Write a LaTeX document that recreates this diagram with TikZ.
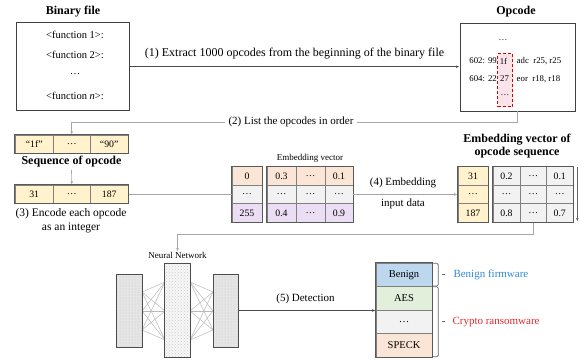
\documentclass[tikz,border=0pt]{standalone}
\usepackage{fontspec}
\setmainfont{Liberation Serif}
\usetikzlibrary{arrows.meta,patterns,calc}
\definecolor{yel}{HTML}{FFF2CC}
\definecolor{peach}{HTML}{FBE5D6}
\definecolor{lgray}{HTML}{F2F2F2}
\definecolor{lav}{HTML}{EBDDF3}
\definecolor{bblue}{HTML}{BDD7EE}
\definecolor{bgreen}{HTML}{E2EFDA}
\definecolor{txtblue}{HTML}{2F88D6}
\definecolor{txtred}{HTML}{DD2A2E}
\definecolor{pinkfill}{HTML}{FBE3EA}
\begin{document}
\begin{tikzpicture}[x=1pt,y=-1pt,
  box/.style={draw=black!75, line width=0.9pt, inner sep=0pt},
  cell/.style={draw=black!50, line width=0.6pt, inner sep=0pt, font=\fontsize{9.8}{11}\selectfont},
  frame/.style={draw=black!65, line width=0.8pt},
  ttl/.style={font=\bfseries\fontsize{12}{14}\selectfont, inner sep=0pt},
  lbl/.style={font=\fontsize{11}{13}\selectfont, inner sep=1pt},
  txt/.style={font=\fontsize{10.5}{12}\selectfont, inner sep=0pt},
  code/.style={font=\fontsize{8.8}{10}\selectfont, inner sep=0pt},
  small/.style={font=\fontsize{9}{10}\selectfont, inner sep=0pt},
  arr/.style={-{Latex[length=3.5pt,width=2.6pt]}, line width=0.6pt},
  dline/.style={draw=black!70, line width=0.7pt},
  gline/.style={draw=black!35, line width=0.7pt},
  nnside/.style={draw=black!70, line width=1pt, preaction={fill=gray!20}, pattern=dots, pattern color=gray!45},
  nnmid/.style={draw=black!70, line width=1pt, preaction={fill=gray!6}, pattern=crosshatch dots, pattern color=gray!40},
  nnlink/.style={draw=gray!55, line width=0.5pt},
  brk/.style={draw=black!60, line width=0.7pt, rounded corners=1.5pt}
]
\useasboundingbox (0,0) rectangle (585,361);

% ---------- Binary file ----------
\node[ttl] (bintitle) at (73,12) {Binary file};
\node[box, minimum width=113pt, minimum height=88pt] (bin) at (72.7,66.7) {};
\node[txt] (f1) at (75,35) {<function 1>:};
\node[txt] (f2) at (75,55) {<function 2>:};
\node[txt] (f3) at (75,74) {…};
\node[txt] (f4) at (75,96) {<function \textit{n}>:};

% ---------- Opcode ----------
\node[ttl] (optitle) at (516,12) {Opcode};
\node[box, minimum width=115pt, minimum height=88pt] (op) at (517.5,67) {};
\node[draw=red!85!black, dashed, dash pattern=on 3pt off 2pt, line width=1.2pt, fill=pinkfill,
      minimum width=15pt, minimum height=53pt, inner sep=0pt] (sel) at (505,80) {};
\node[code] (odots) at (503,40) {…};
\node[code, anchor=east] (l1a) at (497,61) {602: 99};
\node[code] (l1b) at (503.5,61) {1f};
\node[code, anchor=west] (l1c) at (516.5,61) {adc\ \ r25, r25};
\node[code, anchor=east] (l2a) at (497,79) {604: 22};
\node[code] (l2b) at (504.5,79) {27};
\node[code, anchor=west] (l2c) at (516.5,79) {eor\ \ r18, r18};
\node[code] (seldots) at (505,95) {…};

% (1)
\draw[dline, arr] (bin.east) -- (bin.east -| op.west);
\node[lbl, font=\fontsize{12}{14}\selectfont] (lab1) at (294.5,54) {(1) Extract 1000 opcodes from the beginning of the binary file};

% ---------- Sequence of opcode ----------
\node[cell, fill=yel, minimum width=38.3pt, minimum height=18.3pt] (s1) at (34.2,144.2) {“1f”};
\node[cell, fill=yel, minimum width=36.7pt, minimum height=18.3pt] (s2) at (71.7,144.2) {…};
\node[cell, fill=yel, minimum width=38.3pt, minimum height=18.3pt] (s3) at (109.2,144.2) {“90”};
\draw[frame] (s1.north west) rectangle (s3.south east);
\node[ttl] (seqtitle) at (71.5,162) {Sequence of opcode};

% (2)
\draw[gline, arr] (op.south) -- (op.south |- 0,122) -| (s2.north);
\node[lbl, fill=white, inner xsep=4pt] (lab2) at (291,122) {(2) List the opcodes in order};

% ---------- Integers ----------
\node[cell, fill=yel, minimum width=38.3pt, minimum height=18.3pt] (i1) at (34.2,194.2) {31};
\node[cell, fill=yel, minimum width=36.7pt, minimum height=18.3pt] (i2) at (71.7,194.2) {…};
\node[cell, fill=yel, minimum width=38.3pt, minimum height=18.3pt] (i3) at (109.2,194.2) {187};
\draw[frame] (i1.north west) rectangle (i3.south east);
\draw[gline, arr] (seqtitle.south |- 0,170) -- (i2.north);
\node[lbl, font=\fontsize{11.5}{13}\selectfont] (lab3a) at (71,213.3) {(3) Encode each opcode};
\node[lbl, font=\fontsize{11.5}{13}\selectfont] (lab3b) at (71,228.3) {as an integer};

% ---------- Embedding vector table ----------
\node[small] (embtitle) at (310,158) {Embedding vector};
\node[cell, fill=peach, minimum width=30pt, minimum height=18.5pt] (e00) at (247,176) {0};
\node[cell, fill=lgray, minimum width=30pt, minimum height=18.5pt] (e10) at (247,194.5) {…};
\node[cell, fill=lav,   minimum width=30pt, minimum height=18.5pt] (e20) at (247,213) {255};
\node[cell, fill=peach, minimum width=29pt, minimum height=18.5pt] (e01) at (281.5,176) {0.3};
\node[cell, fill=peach, minimum width=29pt, minimum height=18.5pt] (e02) at (310.5,176) {…};
\node[cell, fill=peach, minimum width=28pt, minimum height=18.5pt] (e03) at (339,176) {0.1};
\node[cell, fill=lgray, minimum width=29pt, minimum height=18.5pt] (e11) at (281.5,194.5) {…};
\node[cell, fill=lgray, minimum width=29pt, minimum height=18.5pt] (e12) at (310.5,194.5) {…};
\node[cell, fill=lgray, minimum width=28pt, minimum height=18.5pt] (e13) at (339,194.5) {…};
\node[cell, fill=lav, minimum width=29pt, minimum height=18.5pt] (e21) at (281.5,213) {0.4};
\node[cell, fill=lav, minimum width=29pt, minimum height=18.5pt] (e22) at (310.5,213) {…};
\node[cell, fill=lav, minimum width=28pt, minimum height=18.5pt] (e23) at (339,213) {0.9};
\draw[frame] (e00.north west) rectangle (e20.south east);
\draw[frame] (e01.north west) rectangle (e23.south east);

\draw[gline] (i3.east) -- (i3.east -| e10.west);

% ---------- Output embedding ----------
\node[ttl] (outt1) at (517,140) {Embedding vector of};
\node[ttl] (outt2) at (517,153) {opcode sequence};
\node[cell, fill=yel, minimum width=30pt, minimum height=18.5pt] (o00) at (473,176) {31};
\node[cell, fill=yel, minimum width=30pt, minimum height=18.5pt] (o10) at (473,194.5) {…};
\node[cell, fill=yel, minimum width=30pt, minimum height=18.5pt] (o20) at (473,213) {187};
\node[cell, fill=lgray, minimum width=27pt, minimum height=18.5pt] (o01) at (506.5,176) {0.2};
\node[cell, fill=lgray, minimum width=26.5pt, minimum height=18.5pt] (o02) at (533.25,176) {…};
\node[cell, fill=lgray, minimum width=26.5pt, minimum height=18.5pt] (o03) at (559.75,176) {0.1};
\node[cell, fill=lgray, minimum width=27pt, minimum height=18.5pt] (o11) at (506.5,194.5) {…};
\node[cell, fill=lgray, minimum width=26.5pt, minimum height=18.5pt] (o12) at (533.25,194.5) {…};
\node[cell, fill=lgray, minimum width=26.5pt, minimum height=18.5pt] (o13) at (559.75,194.5) {…};
\node[cell, fill=lgray, minimum width=27pt, minimum height=18.5pt] (o21) at (506.5,213) {0.8};
\node[cell, fill=lgray, minimum width=26.5pt, minimum height=18.5pt] (o22) at (533.25,213) {…};
\node[cell, fill=lgray, minimum width=26.5pt, minimum height=18.5pt] (o23) at (559.75,213) {0.7};
\draw[frame] (o00.north west) rectangle (o20.south east);
\draw[frame] (o01.north west) rectangle (o23.south east);
\coordinate (vt) at ($(o03.north east)+(4,0.5)$);
\coordinate (vb) at ($(o23.south east)+(4,-1)$);
\draw[gline, draw=black!60, arr] (vt) -- (vb);

% (4)
\draw[gline, arr] (e13.east) -- (o10.west);
\node[lbl] (lab4a) at (403,183) {(4) Embedding};
\node[lbl] (lab4b) at (403,203.5) {input data};

% ---------- Neural network ----------
\node[small] (nntitle) at (177.5,255) {Neural Network};
\draw[gline, arr] (o22.south) -- (o22.south |- 0,234) -| (nntitle.north);

\coordinate (p1) at (142,292); \coordinate (p2) at (142,311); \coordinate (p3) at (142,330);
\coordinate (q1) at (165,282); \coordinate (q2) at (165,311); \coordinate (q3) at (165,340);
\coordinate (r1) at (190,282); \coordinate (r2) at (190,311); \coordinate (r3) at (190,340);
\coordinate (t1) at (213,292); \coordinate (t2) at (213,311); \coordinate (t3) at (213,330);
\foreach \a in {p1,p2,p3}{\foreach \b in {q1,q2,q3}{\draw[nnlink] (\a) -- (\b);}}
\foreach \a in {r1,r2,r3}{\foreach \b in {t1,t2,t3}{\draw[nnlink] (\a) -- (\b);}}

\node[nnside, minimum width=26pt, minimum height=73pt, inner sep=0pt] (nnl) at (129,310.5) {};
\node[nnmid, minimum width=25.5pt, minimum height=94pt, inner sep=0pt] (nnm) at (177.5,310) {};
\node[nnside, minimum width=25pt, minimum height=73pt, inner sep=0pt] (nnr) at (225.5,310.5) {};

% ---------- Classes ----------
\node[cell, fill=bblue,  minimum width=56pt, minimum height=23.5pt, font=\fontsize{10.5}{12}\selectfont] (b1) at (404,274.75) {Benign};
\node[cell, fill=bgreen, minimum width=56pt, minimum height=23.5pt, font=\fontsize{10.5}{12}\selectfont] (b2) at (404,298.25) {AES};
\node[cell, fill=lgray,  minimum width=56pt, minimum height=23.5pt, font=\fontsize{10.5}{12}\selectfont] (b3) at (404,321.75) {…};
\node[cell, fill=peach,  minimum width=56pt, minimum height=23.5pt, font=\fontsize{10.5}{12}\selectfont] (b4) at (404,345.25) {SPECK};
\draw[frame] (b1.north west) rectangle (b4.south east);

% (5)
\draw[dline, arr] (nnr.east) -- (nnr.east -| b1.west);
\node[lbl] (lab5) at (305.5,299) {(5) Detection};

% brackets
\draw[brk] ($(b1.north east)+(0.5,0.5)$) -- ++(5.5,0) |- ($(b1.south east)+(0.5,-0.8)$);
\draw[brk] ($(b2.north east)+(0.5,0.5)$) -- ++(5.5,0) |- ($(b4.south east)+(0.5,-0.5)$);
\draw[brk] ($(b1.east)+(9.5,0)$) -- ++(3.5,0);
\coordinate (cm) at ($(b2.north east)!0.5!(b4.south east)$);
\draw[brk] ($(cm)+(9.5,0)$) -- ++(3.5,0);
\node[lbl, text=txtblue, anchor=west] (benlab) at ($(b1.east)+(20,0)$) {Benign firmware};
\node[lbl, text=txtred, anchor=west] (crylab) at ($(cm)+(19,0)$) {Crypto ransomware};
\end{tikzpicture}
\end{document}
